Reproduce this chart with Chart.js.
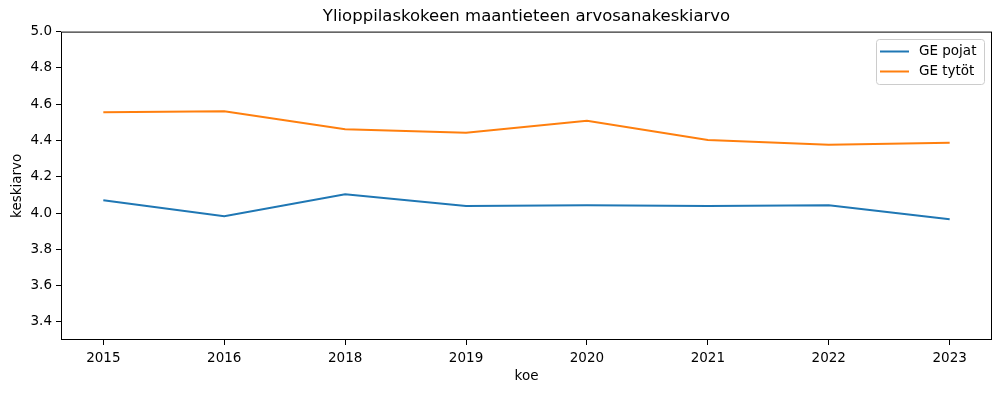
<!DOCTYPE html>
<html>
<head>
<meta charset="utf-8">
<script src="https://cdn.jsdelivr.net/npm/chart.js@4/dist/chart.umd.min.js"></script>
<style>
    html, body { margin: 0; padding: 0; background: #fff; }
    #wrap { width: 1001px; height: 393px; }
</style>
</head>
<body>
<div id="wrap"><canvas id="keskiarvoChart" width="1001" height="393"></canvas></div>
<script>
const vuodet = ['2015', '2016', '2018', '2019', '2020', '2021', '2022', '2023'];
const pojat = [4.070, 3.982, 4.104, 4.039, 4.043, 4.038, 4.043, 3.965];
const tytot = [4.556, 4.561, 4.462, 4.442, 4.508, 4.402, 4.376, 4.387];
const yTicks = [3.4, 3.6, 3.8, 4.0, 4.2, 4.4, 4.6, 4.8, 5.0];

const FONT = "'DejaVu Sans', sans-serif";

function toPoints(values) {
    return values.map((v, i) => ({ x: i, y: v }));
}

// matplotlib style frame + legend box inside the plot
const frameAndLegend = {
    id: 'frameAndLegend',
    afterDraw(chart) {
        const { ctx, chartArea: a } = chart;
        ctx.save();
        ctx.strokeStyle = '#000';
        ctx.lineWidth = 1;
        ctx.strokeRect(a.left + 0.5, a.top + 0.5, a.right - a.left - 1, a.bottom - a.top - 1);

        const bx = 876, by = 39, bw = 108, bh = 45;
        ctx.fillStyle = 'rgba(255,255,255,0.8)';
        ctx.strokeStyle = '#cccccc';
        ctx.beginPath();
        ctx.roundRect(bx + 0.5, by + 0.5, bw, bh, 3);
        ctx.fill();
        ctx.stroke();

        ctx.font = '13.5px ' + FONT;
        ctx.textBaseline = 'middle';
        chart.data.datasets.forEach((ds, i) => {
            const y = by + 12.5 + i * 20;
            ctx.strokeStyle = ds.borderColor;
            ctx.lineWidth = 2;
            ctx.beginPath();
            ctx.moveTo(bx + 4, y);
            ctx.lineTo(bx + 33, y);
            ctx.stroke();
            ctx.fillStyle = '#000';
            ctx.fillText(ds.label, bx + 43, y);
        });
        ctx.restore();
    }
};

const ctx = document.getElementById('keskiarvoChart').getContext('2d');
new Chart(ctx, {
    type: 'line',
    data: {
        datasets: [
            {
                label: 'GE pojat',
                data: toPoints(pojat),
                borderColor: '#1f77b4',
                borderWidth: 2,
                pointRadius: 0,
                tension: 0,
                fill: false
            },
            {
                label: 'GE tytöt',
                data: toPoints(tytot),
                borderColor: '#ff7f0e',
                borderWidth: 2,
                pointRadius: 0,
                tension: 0,
                fill: false
            }
        ]
    },
    options: {
        responsive: false,
        animation: false,
        layout: { padding: { left: 0, right: 9, top: 0, bottom: 0 } },
        scales: {
            x: {
                type: 'linear',
                min: -0.35,
                max: vuodet.length - 1 + 0.35,
                afterBuildTicks: (axis) => {
                    axis.ticks = vuodet.map((_, i) => ({ value: i }));
                },
                afterFit: (axis) => { axis.height = 53; },
                grid: {
                    display: true,
                    drawOnChartArea: false,
                    drawTicks: true,
                    tickLength: 5,
                    color: '#000'
                },
                border: { display: false },
                ticks: {
                    color: '#000',
                    font: { family: FONT, size: 13.5 },
                    padding: 5,
                    maxRotation: 0,
                    autoSkip: false,
                    callback: (value) => vuodet[value]
                },
                title: {
                    display: true,
                    text: 'koe',
                    color: '#000',
                    font: { family: FONT, size: 13.5 },
                    padding: { top: 2, bottom: 8 }
                }
            },
            y: {
                min: 3.3,
                max: 5.0,
                afterBuildTicks: (axis) => {
                    axis.ticks = yTicks.map(v => ({ value: v }));
                },
                afterFit: (axis) => { axis.width = 61; },
                grid: {
                    display: true,
                    drawOnChartArea: false,
                    drawTicks: true,
                    tickLength: 5,
                    color: '#000'
                },
                border: { display: false },
                ticks: {
                    color: '#000',
                    font: { family: FONT, size: 13.5 },
                    padding: 4,
                    callback: (value) => Number(value).toFixed(1)
                },
                title: {
                    display: true,
                    text: 'keskiarvo',
                    color: '#000',
                    font: { family: FONT, size: 13.5 },
                    padding: { top: 9, bottom: 0 }
                }
            }
        },
        plugins: {
            legend: { display: false },
            tooltip: { enabled: false },
            title: {
                display: true,
                fullSize: false,
                text: 'Ylioppilaskokeen maantieteen arvosanakeskiarvo',
                color: '#000',
                font: { family: FONT, size: 16.5, weight: 'normal' },
                padding: { top: 7, bottom: 4.8 }
            }
        }
    },
    plugins: [frameAndLegend]
});
</script>
</body>
</html>
